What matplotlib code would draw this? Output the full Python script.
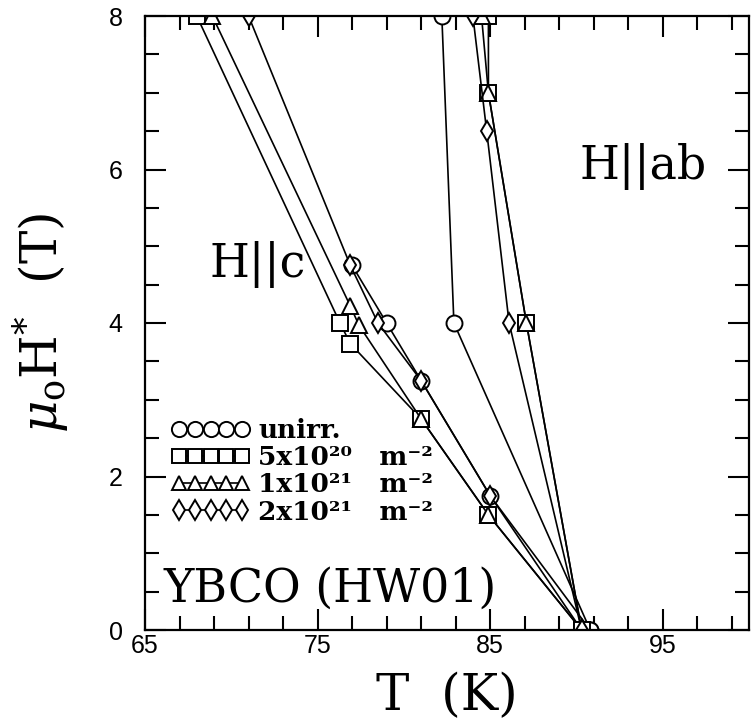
import matplotlib
matplotlib.use("Agg")
import matplotlib.pyplot as plt
from matplotlib.ticker import FixedLocator, MultipleLocator
from matplotlib.font_manager import FontProperties

plt.rcParams['mathtext.fontset'] = 'dejavuserif'

# ---------------- data ----------------
# H || c branch
unirr_c_T = [77.0, 79.0, 81.0, 85.0, 90.8]
unirr_c_H = [4.75, 4.0, 3.25, 1.75, 0.0]
d5e20_c_T = [68.0, 76.3, 76.9, 81.0, 84.9, 90.3]
d5e20_c_H = [8.0, 4.0, 3.73, 2.75, 1.5, 0.0]
d1e21_c_T = [68.9, 76.9, 77.4, 81.0, 84.9, 90.3]
d1e21_c_H = [8.0, 4.22, 3.97, 2.75, 1.5, 0.0]
d2e21_c_T = [71.0, 76.9, 78.5, 81.0, 85.0, 90.3]
d2e21_c_H = [8.0, 4.75, 4.0, 3.25, 1.75, 0.0]

# H || ab branch
unirr_ab_T = [82.2, 82.9, 90.8]
unirr_ab_H = [8.0, 4.0, 0.0]
d5e20_ab_T = [84.9, 84.9, 87.1, 90.3]
d5e20_ab_H = [8.0, 7.0, 4.0, 0.0]
d1e21_ab_T = [84.5, 84.9, 87.1, 90.3]
d1e21_ab_H = [8.0, 7.0, 4.0, 0.0]
d2e21_ab_T = [84.0, 84.8, 86.1, 90.3]
d2e21_ab_H = [8.0, 6.5, 4.0, 0.0]

series_labels = ["unirr.", "5x10\u00b2\u2070   m\u207b\u00b2",
                 "1x10\u00b2\u00b9   m\u207b\u00b2", "2x10\u00b2\u00b9   m\u207b\u00b2"]
x_ticks = [65, 75, 85, 95]
y_ticks = [0, 2, 4, 6, 8]

# ---------------- figure ----------------
fig = plt.figure(figsize=(7.55, 7.25), dpi=100)
ax = fig.add_axes([145/755, 1-630/725, (749-145)/755, (630-16)/725])

styles = [dict(marker='o', ms=11.5), dict(marker='s', ms=11),
          dict(marker='^', ms=11), dict(marker='d', ms=10.5)]
common = dict(color='black', lw=1.2, mfc='white', mec='black', mew=1.4)

c_sets = [(unirr_c_T, unirr_c_H), (d5e20_c_T, d5e20_c_H),
          (d1e21_c_T, d1e21_c_H), (d2e21_c_T, d2e21_c_H)]
ab_sets = [(unirr_ab_T, unirr_ab_H), (d5e20_ab_T, d5e20_ab_H),
           (d1e21_ab_T, d1e21_ab_H), (d2e21_ab_T, d2e21_ab_H)]

handles = []
for (T, H), st, lab in zip(c_sets, styles, series_labels):
    h, = ax.plot(T, H, label=lab, **st, **common)
    handles.append(h)
for (T, H), st in zip(ab_sets, styles):
    ax.plot(T, H, **st, **common)

ax.set_xlim(65, 100)
ax.set_ylim(0, 8)

ax.xaxis.set_major_locator(FixedLocator(x_ticks))
ax.xaxis.set_minor_locator(FixedLocator([t for t in range(67, 100, 2) if t not in x_ticks]))
ax.yaxis.set_major_locator(FixedLocator(y_ticks))
ax.yaxis.set_minor_locator(MultipleLocator(0.5))

ax.tick_params(which='both', direction='in', top=True, right=True, width=1.5)
ax.tick_params(which='major', length=15)
ax.tick_params(which='minor', length=10)
ax.tick_params(axis='y', which='major', pad=16)
ax.tick_params(axis='x', which='major', pad=3)
for lbl in ax.get_xticklabels() + ax.get_yticklabels():
    lbl.set_fontfamily('Liberation Sans')
    lbl.set_fontsize(18)
for sp in ax.spines.values():
    sp.set_linewidth(1.6)

ax.set_xlabel("T  (K)", family='DejaVu Serif', fontsize=36)
ax.xaxis.set_label_coords(0.5, -0.068)
ax.set_ylabel(r"$\mu_{\mathrm{o}}$H$^{*}$  (T)", family='DejaVu Serif', fontsize=36)
ax.yaxis.set_label_coords(-0.122, 0.5)

ax.text(68.76, 4.6, "H||c", family='DejaVu Serif', fontsize=33, ha='left', va='baseline')
ax.text(90.17, 5.88, "H||ab", family='DejaVu Serif', fontsize=33, ha='left', va='baseline')
ax.text(66.1, 0.365, "YBCO (HW01)", family='DejaVu Serif', fontsize=33, ha='left', va='baseline')

leg_font = FontProperties(family=['DejaVu Serif', 'DejaVu Sans'], weight='bold', size=19)
leg = ax.legend(handles=handles, numpoints=5, handlelength=3.0, handletextpad=0.3,
                labelspacing=0.08, markerscale=0.95, frameon=False, prop=leg_font,
                loc='upper left', bbox_to_anchor=(0.043, 0.345), borderpad=0,
                borderaxespad=0)

fig.savefig("out.png", dpi=100)
